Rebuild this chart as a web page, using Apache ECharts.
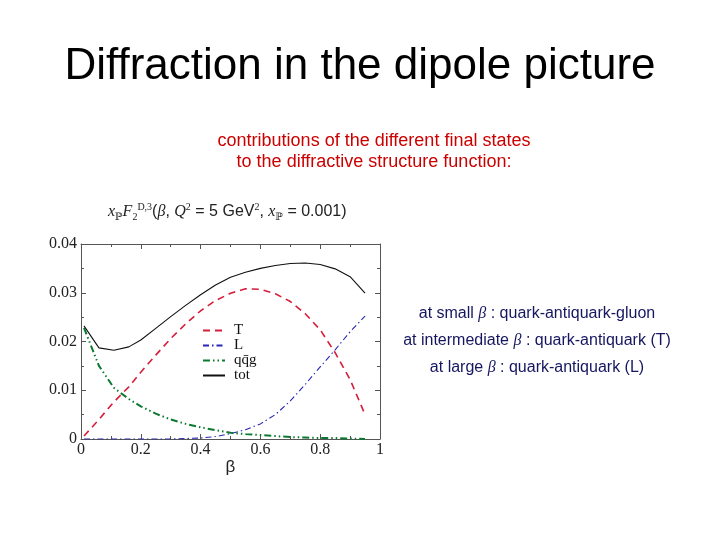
<!DOCTYPE html>
<html>
<head>
<meta charset="utf-8">
<script src="https://cdn.jsdelivr.net/npm/echarts@6/dist/echarts.min.js"></script>
<style>
  html, body { margin: 0; padding: 0; background: #fff; }
  #main { width: 720px; height: 540px; }
</style>
</head>
<body>
<div id="main"></div>
<script>
// beta values where the curves are sampled
const beta = [0.01, 0.06, 0.11, 0.16, 0.2, 0.25, 0.3, 0.35, 0.4, 0.45, 0.5, 0.55, 0.6, 0.65, 0.7, 0.75, 0.8, 0.85, 0.9, 0.95];

// contributions to x_P F2^D(3)
const tValues   = [0.0006, 0.0040, 0.0076, 0.0107, 0.0137, 0.0172, 0.0206, 0.0236, 0.0263, 0.0284, 0.0299, 0.0308, 0.0307, 0.0298, 0.0282, 0.0257, 0.0224, 0.0177, 0.0122, 0.0050];
const lValues   = [0.0000, 0.0000, 0.0000, 0.0000, 0.0000, 0.0000, 0.0000, 0.0001, 0.0002, 0.0005, 0.0011, 0.0019, 0.0031, 0.0050, 0.0078, 0.0112, 0.0148, 0.0183, 0.0220, 0.0252];
const qqgValues = [0.0228, 0.0150, 0.0105, 0.0082, 0.0067, 0.0052, 0.0040, 0.0031, 0.0024, 0.0018, 0.0013, 0.0010, 0.0008, 0.0006, 0.0004, 0.0003, 0.0002, 0.0002, 0.0001, 0.0000];
const totValues = [0.0232, 0.0187, 0.0182, 0.0189, 0.0203, 0.0227, 0.0251, 0.0274, 0.0296, 0.0316, 0.0332, 0.0342, 0.0350, 0.0356, 0.0360, 0.0361, 0.0358, 0.0349, 0.0333, 0.0299];

const seriesNames = ['T', 'L', 'qq\u0304g', 'tot'];
const xTicks = ['0', '0.2', '0.4', '0.6', '0.8', '1'];
const yTicks = ['0', '0.01', '0.02', '0.03', '0.04'];

const serif = "'Liberation Serif', 'DejaVu Serif', serif";
const sans = "'Liberation Sans', Arial, sans-serif";

function pairs(vals) {
  return beta.map((b, i) => [b, vals[i]]);
}

const chart = echarts.init(document.getElementById('main'), null, { renderer: 'canvas' });

const tickStyle = { lineStyle: { color: '#555', width: 1 } };
const frameLine = { show: true, onZero: false, lineStyle: { color: '#555' } };

const option = {
  backgroundColor: '#fff',
  animation: false,
  grid: { left: 81, right: 340, top: 244, bottom: 101 },
  legend: {
    orient: 'vertical',
    left: 197,
    top: 318,
    itemWidth: 22,
    itemHeight: 10,
    itemGap: 0,
    itemStyle: { opacity: 0 },
    textStyle: { fontFamily: serif, fontSize: 15, color: '#111', lineHeight: 14, padding: [0, 0, 0, 4] },
    data: seriesNames
  },
  xAxis: [{
    type: 'value', min: 0, max: 1, interval: 0.2,
    name: 'β', nameLocation: 'middle', nameGap: 17,
    nameTextStyle: { fontFamily: sans, fontSize: 17, color: '#222' },
    axisLine: frameLine,
    axisTick: Object.assign({ inside: true, length: 5 }, tickStyle),
    minorTick: Object.assign({ show: true, splitNumber: 2, length: 3 }, tickStyle),
    splitLine: { show: false },
    axisLabel: {
      margin: 3, fontFamily: serif, fontSize: 16, color: '#222',
      formatter: v => xTicks[Math.round(v / 0.2)]
    }
  }, {
    type: 'value', min: 0, max: 1, interval: 0.2, position: 'top',
    axisLine: frameLine,
    axisTick: Object.assign({ inside: true, length: 5 }, tickStyle),
    minorTick: Object.assign({ show: true, splitNumber: 2, length: 3 }, tickStyle),
    splitLine: { show: false },
    axisLabel: { show: false }
  }],
  yAxis: [{
    type: 'value', min: 0, max: 0.04, interval: 0.01,
    axisLine: frameLine,
    axisTick: Object.assign({ show: true, inside: true, length: 5 }, tickStyle),
    minorTick: Object.assign({ show: true, splitNumber: 2, length: 3 }, tickStyle),
    splitLine: { show: false },
    axisLabel: {
      margin: 4, fontFamily: serif, fontSize: 16, color: '#222',
      formatter: v => yTicks[Math.round(v / 0.01)]
    }
  }, {
    type: 'value', min: 0, max: 0.04, interval: 0.01, position: 'right',
    axisLine: frameLine,
    axisTick: Object.assign({ show: true, inside: true, length: 5 }, tickStyle),
    minorTick: Object.assign({ show: true, splitNumber: 2, length: 3 }, tickStyle),
    splitLine: { show: false },
    axisLabel: { show: false }
  }],
  series: [
    {
      name: seriesNames[0], type: 'line', data: pairs(tValues), symbol: 'none',
      itemStyle: { color: '#d51d3c' },
      lineStyle: { color: '#d51d3c', width: 1.6, type: [7, 5] }
    },
    {
      name: seriesNames[1], type: 'line', data: pairs(lValues), symbol: 'none',
      itemStyle: { color: '#2626b8' },
      lineStyle: { color: '#2626b8', width: 1.1, type: [6, 3, 1.5, 3] }
    },
    {
      name: seriesNames[2], type: 'line', data: pairs(qqgValues), symbol: 'none',
      itemStyle: { color: '#0b7a30' },
      lineStyle: { color: '#0b7a30', width: 2, type: [7, 3, 1.5, 3, 1.5, 3] }
    },
    {
      name: seriesNames[3], type: 'line', data: pairs(totValues), symbol: 'none',
      itemStyle: { color: '#111' },
      lineStyle: { color: '#111', width: 1.1, type: 'solid' }
    }
  ],
  graphic: [
    {
      type: 'text', left: 'center', top: 45,
      style: { text: 'Diffraction in the dipole picture', font: '44px ' + sans, fill: '#000' }
    },
    {
      type: 'text', x: 374, y: 152,
      style: {
        text: 'contributions of the different final states\nto the diffractive structure function:',
        font: '18px ' + sans, fill: '#cc0000', align: 'center', verticalAlign: 'middle', lineHeight: 21
      }
    },
    {
      type: 'text', x: 108, y: 212,
      style: {
        text: '{i|x}{s|ℙ}{i|F}{s|2}{p|D,3}{n|(}{i|β}{n|, }{i|Q}{p|2}{n| = 5 GeV}{p|2}{n|, }{i|x}{s|ℙ}{n| = 0.001)}',
        verticalAlign: 'middle',
        rich: {
          i: { fontFamily: serif, fontStyle: 'italic', fontSize: 16, lineHeight: 20, fill: '#222' },
          n: { fontFamily: sans, fontSize: 16, lineHeight: 20, fill: '#222' },
          s: { fontFamily: serif, fontSize: 10, lineHeight: 9, verticalAlign: 'bottom', fill: '#222' },
          p: { fontFamily: serif, fontSize: 10, lineHeight: 9, verticalAlign: 'top', fill: '#222' }
        }
      }
    },
    {
      type: 'text', x: 537, y: 300,
      style: {
        text: '{a|at small }{b|β}{a| : quark-antiquark-gluon}\n{a|at intermediate }{b|β}{a| : quark-antiquark (T)}\n{a|at large }{b|β}{a| : quark-antiquark (L)}',
        align: 'center', verticalAlign: 'top',
        rich: {
          a: { fontFamily: sans, fontSize: 16, lineHeight: 27, fill: '#161660' },
          b: { fontFamily: serif, fontStyle: 'italic', fontSize: 16, lineHeight: 27, fill: '#161660' }
        }
      }
    }
  ]
};

chart.setOption(option);
</script>
</body>
</html>
